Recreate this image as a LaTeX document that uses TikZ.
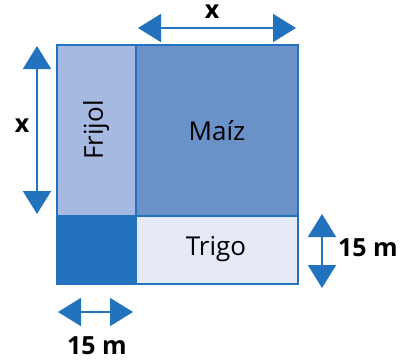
\documentclass[tikz,border=0pt]{standalone}
\usepackage{fontspec}
\setmainfont{Open Sans}
\usetikzlibrary{arrows.meta}

\definecolor{bordeazul}{HTML}{2272BD}
\definecolor{frijolazul}{HTML}{A6B9E1}
\definecolor{maizazul}{HTML}{6A92C9}
\definecolor{trigoazul}{HTML}{E6EAF6}

\tikzset{
  parcela/.style={line width=2pt, draw=bordeazul},
  cota/.style={draw=bordeazul, line width=1.8pt,
    {Triangle[length=23pt, width=28pt]}-{Triangle[length=23pt, width=28pt]}},
  cotalabel/.style={font=\bfseries\fontsize{25}{25}\selectfont, inner sep=0pt},
  cultivo/.style={font=\fontsize{26}{26}\selectfont, inner sep=0pt}
}

\begin{document}
\begin{tikzpicture}[x=1pt, y=-1pt]
  \useasboundingbox (0,0) rectangle (403,360);

  % Fields
  \draw[parcela, fill=frijolazul] (57,45) rectangle (136,216);
  \draw[parcela, fill=maizazul] (136,45) rectangle (298,216);
  \draw[parcela, fill=trigoazul] (136,216) rectangle (298,284);
  \fill[bordeazul] (56,216) rectangle (137,285);

  % Crop labels
  \node[cultivo] (maiz) at (217,131) {Maíz};
  \node[cultivo, rotate=90] (frijol) at (96,130) {Frijol};
  \node[cultivo] (trigo) at (216,249) {Trigo};

  % Top arrow
  \coordinate (xtopa) at (138,28);
  \coordinate (xtopb) at (296,28);
  \draw[cota] (xtopa) -- (xtopb);
  \node[cotalabel] (xtop) at (212,12) {x};

  % Left arrow
  \coordinate (xlefta) at (37,46);
  \coordinate (xleftb) at (37,214);
  \draw[cota] (xlefta) -- (xleftb);
  \node[cotalabel] (xleft) at (22,126) {x};

  % Right arrow
  \coordinate (trigoa) at (322,214);
  \coordinate (trigob) at (322,288);
  \draw[cota] (trigoa) -- (trigob);
  \node[cotalabel] (trigoancho) at (368,248) {15 m};

  % Bottom arrow
  \coordinate (frijola) at (58,312);
  \coordinate (frijolb) at (133,312);
  \draw[cota] (frijola) -- (frijolb);
  \node[cotalabel] (frijolancho) at (97,346) {15 m};
\end{tikzpicture}
\end{document}
